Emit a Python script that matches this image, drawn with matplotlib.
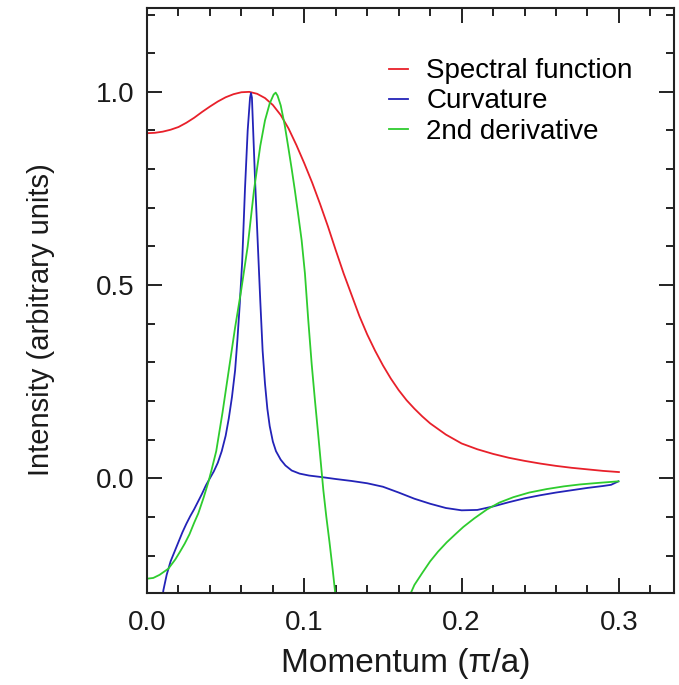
import numpy as np
import matplotlib
matplotlib.use("Agg")
import matplotlib.pyplot as plt
from matplotlib.ticker import MultipleLocator, FormatStrFormatter

# ---- data ----
k_spec = [0.0, 0.005, 0.010, 0.015, 0.020, 0.025, 0.030, 0.035, 0.040, 0.045, 0.050,
          0.055, 0.060, 0.065, 0.070, 0.075, 0.080, 0.085, 0.090, 0.095, 0.100,
          0.105, 0.110, 0.115, 0.120, 0.125, 0.130, 0.135, 0.140, 0.145, 0.150,
          0.155, 0.160, 0.165, 0.170, 0.175, 0.180, 0.190, 0.200, 0.210, 0.220,
          0.230, 0.240, 0.250, 0.260, 0.270, 0.280, 0.290, 0.300]
v_spec = [0.893, 0.894, 0.897, 0.902, 0.909, 0.920, 0.933, 0.948, 0.962, 0.975, 0.986,
          0.994, 0.999, 1.000, 0.995, 0.984, 0.966, 0.940, 0.905, 0.862, 0.815,
          0.765, 0.710, 0.652, 0.590, 0.530, 0.475, 0.420, 0.372, 0.330, 0.292,
          0.258, 0.228, 0.202, 0.180, 0.160, 0.142, 0.113, 0.090, 0.075, 0.063,
          0.053, 0.045, 0.038, 0.032, 0.027, 0.023, 0.019, 0.016]

k_curv = [0.0098, 0.0104, 0.0125, 0.015, 0.0175, 0.020, 0.0225, 0.025, 0.0275, 0.030,
          0.0325, 0.035, 0.0375, 0.040, 0.0425, 0.045, 0.0475, 0.050, 0.052, 0.054,
          0.056, 0.0575, 0.059, 0.0605, 0.0623, 0.064, 0.0655, 0.0661, 0.0667, 0.0687,
          0.0705, 0.0720, 0.0735, 0.0750, 0.0765, 0.078, 0.080, 0.082, 0.085, 0.088,
          0.092, 0.097, 0.103, 0.111, 0.120, 0.130, 0.140, 0.150, 0.160, 0.170,
          0.180, 0.190, 0.200, 0.210, 0.220, 0.230, 0.240, 0.250, 0.260, 0.270,
          0.280, 0.290, 0.295, 0.2997]
v_curv = [-0.31, -0.29, -0.25, -0.215, -0.19, -0.165, -0.14, -0.118, -0.098, -0.08,
          -0.06, -0.04, -0.018, 0.0, 0.018, 0.04, 0.07, 0.11, 0.155, 0.21,
          0.279, 0.36, 0.453, 0.56, 0.75, 0.90, 0.985, 0.997, 0.985, 0.771,
          0.60, 0.46, 0.33, 0.245, 0.18, 0.135, 0.095, 0.07, 0.048, 0.033,
          0.02, 0.012, 0.007, 0.003, -0.002, -0.007, -0.013, -0.022, -0.037, -0.053,
          -0.066, -0.077, -0.083, -0.082, -0.073, -0.062, -0.052, -0.044, -0.037, -0.031,
          -0.025, -0.020, -0.017, -0.008]

k_d2a = [0.0, 0.004, 0.008, 0.0136, 0.018, 0.021, 0.024, 0.027, 0.030, 0.0326, 0.036,
         0.039, 0.041, 0.044, 0.048, 0.052, 0.056, 0.060, 0.064, 0.068, 0.072, 0.075,
         0.078, 0.0805, 0.0818, 0.083, 0.085, 0.0875, 0.0898, 0.092, 0.094, 0.0962,
         0.0983, 0.1004, 0.1025, 0.1047, 0.1068, 0.1089, 0.1105, 0.1121, 0.114, 0.116,
         0.118, 0.120]
v_d2a = [-0.26, -0.258, -0.25, -0.234, -0.21, -0.19, -0.169, -0.145, -0.115, -0.091, -0.05,
         -0.01, 0.021, 0.07, 0.17, 0.28, 0.39, 0.49, 0.60, 0.745, 0.86, 0.926,
         0.97, 0.993, 0.998, 0.99, 0.965, 0.915, 0.857, 0.80, 0.745, 0.68,
         0.616, 0.53, 0.41, 0.295, 0.20, 0.11, 0.04, -0.031, -0.10, -0.165,
         -0.235, -0.31]
k_d2b = [0.1663, 0.170, 0.175, 0.180, 0.185, 0.1905, 0.196, 0.2011, 0.208, 0.216,
         0.224, 0.2329, 0.243, 0.2541, 0.265, 0.2753, 0.287, 0.2997]
v_d2b = [-0.31, -0.276, -0.245, -0.215, -0.19, -0.166, -0.145, -0.126, -0.104, -0.081,
         -0.063, -0.049, -0.037, -0.028, -0.021, -0.016, -0.012, -0.008]

labels = ["Spectral function", "Curvature", "2nd derivative"]
colors = ["#e8202a", "#2323b8", "#2ecc2e"]

plt.rcParams['font.family'] = ['Liberation Sans', 'DejaVu Sans']

fig = plt.figure(figsize=(6.79, 6.85), dpi=100)
ax = fig.add_axes([0.2165, 0.1343, 0.7761, 0.8540])

ax.plot(k_spec, v_spec, color=colors[0], lw=1.3, label=labels[0])
ax.plot(k_curv, v_curv, color=colors[1], lw=1.3, label=labels[1])
ax.plot(k_d2a, v_d2a, color=colors[2], lw=1.3, label=labels[2])
ax.plot(k_d2b, v_d2b, color=colors[2], lw=1.3)

ax.set_xlim(0, 0.335)
ax.set_ylim(-0.297, 1.217)

ax.xaxis.set_major_locator(MultipleLocator(0.1))
ax.xaxis.set_minor_locator(MultipleLocator(0.02))
ax.yaxis.set_major_locator(MultipleLocator(0.5))
ax.yaxis.set_minor_locator(MultipleLocator(0.1))
ax.xaxis.set_major_formatter(FormatStrFormatter('%.1f'))
ax.yaxis.set_major_formatter(FormatStrFormatter('%.1f'))

ax.tick_params(which='both', direction='in', top=True, right=True, color='#222222', width=1.4)
ax.tick_params(which='major', length=11, labelsize=20, labelcolor='#1a1a1a')
ax.tick_params(which='minor', length=6)
ax.tick_params(axis='x', which='major', pad=12)
ax.tick_params(axis='y', which='major', pad=9)
for s in ax.spines.values():
    s.set_linewidth(1.5)
    s.set_color('#222222')

ax.set_xlabel("Momentum (\u03c0/a)", fontsize=24, color='#1a1a1a')
ax.set_ylabel("Intensity (arbitrary units)", fontsize=21, color='#1a1a1a')
ax.xaxis.set_label_coords(0.491, -0.094)
ax.yaxis.set_label_coords(-0.175, 0.467)

ax.legend(loc='upper left', bbox_to_anchor=(0.459, 0.914), frameon=False, fontsize=20,
          handlelength=0.7, handletextpad=0.65, labelspacing=0.15, borderpad=0, borderaxespad=0)

fig.savefig("out.png", dpi=100)
